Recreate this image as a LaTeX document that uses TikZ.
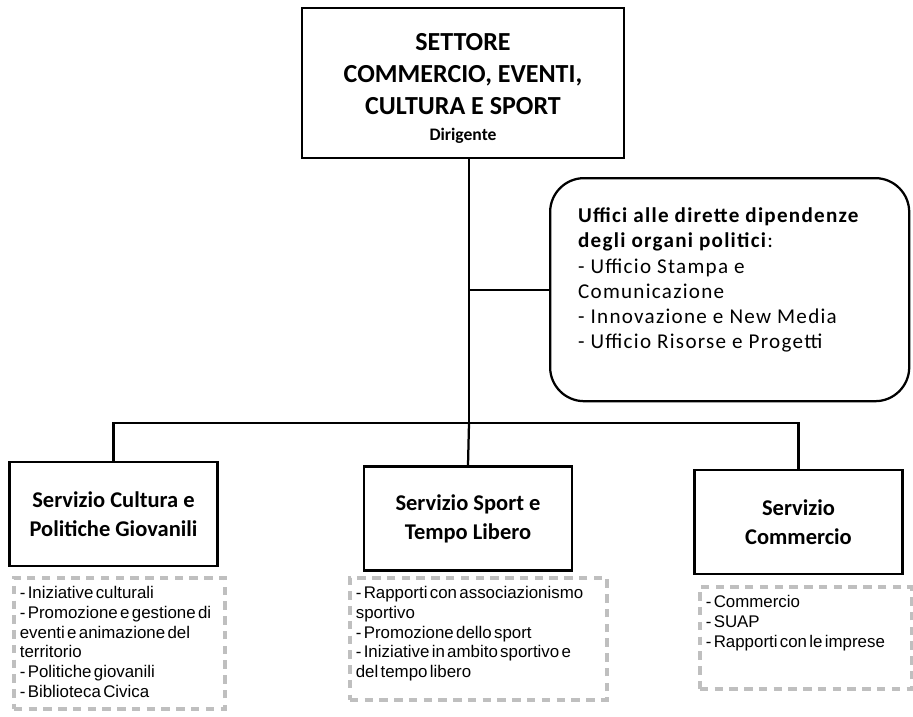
\documentclass[tikz,border=0pt]{standalone}
\usepackage{fontspec}
\newfontfamily\carlito{Carlito}
\newfontfamily\carlitow[LetterSpace=6]{Carlito}
\newfontfamily\liber[WordSpace=0.5]{Liberation Sans}
\definecolor{dashgray}{HTML}{BFBFBF}

\begin{document}
\begin{tikzpicture}[x=0.025cm,y=-0.025cm,
        box/.style={draw,line width=1.6pt,align=center},
        srv/.style={box,minimum width=52mm,minimum height=26mm,font=\carlito\bfseries\fontsize{16}{20.5}\selectfont},
        lista/.style={draw=dashgray,line width=2.6pt,dash pattern=on 6pt off 4.5pt,anchor=north west,inner xsep=1.5mm,inner ysep=2mm,font=\liber\fontsize{12}{14.2}\selectfont},
        wire/.style={line width=1.6pt}]
        % frame
        \useasboundingbox (0,0) rectangle (913,716);
        % head
        \node[box,minimum width=80.5mm,minimum height=37.5mm,font=\carlito\bfseries\fontsize{18.5}{22.8}\selectfont] (sett) at (463,83)
            {\rule{0pt}{20pt}SETTORE\\COMMERCIO, EVENTI,\\CULTURA E SPORT\\[-4pt]{\fontsize{12.5}{15}\selectfont Dirigente}};
        % staff offices
        \node[draw,line width=1.6pt,rounded corners=8.5mm,anchor=north west,inner xsep=7mm,inner ysep=7.5mm,font=\carlitow\fontsize{15}{17.8}\selectfont] (uffici) at (549,177)
            {\parbox[t][40.75mm][t]{75.75mm}{\raggedright\textbf{Uffici alle dirette dipendenze\\degli organi politici}:\\- Ufficio Stampa e\\Comunicazione\\- Innovazione e New Media\\- Ufficio Risorse e Progetti}};
        % services
        \node[srv] (cult) at (113.5,514) {Servizio Cultura e\\Politiche Giovanili};
        \node[srv] (sport) at (468,518.5) {Servizio Sport e\\Tempo Libero};
        \node[srv] (comm) at (798.5,522) {Servizio\\Commercio};
        % connectors
        \coordinate (bus) at (469,423);
        \draw[wire] (sett.south -| bus) -- (bus);
        \draw[wire] (uffici.west -| bus) -- (uffici.west);
        \draw[wire] (cult.north) |- (bus) -| (comm.north);
        \draw[wire] (bus) -- (sport.north);
        % activities
        \node[lista] (lcult) at (12,576)
            {\parbox[t][28.75mm][t]{49.75mm}{\raggedright - Iniziative culturali\\- Promozione e gestione di\\eventi e animazione del\\territorio\\- Politiche giovanili\\- Biblioteca Civica}};
        \node[lista] (lsport) at (348,576)
            {\parbox[t][26.5mm][t]{61.25mm}{\raggedright - Rapporti con associazionismo\\sportivo\\- Promozione dello sport\\- Iniziative in ambito sportivo e\\del tempo libero}};
        \node[lista] (lcomm) at (698,585)
            {\parbox[t][21.5mm][t]{50mm}{\raggedright - Commercio\\- SUAP\\- Rapporti con le imprese}};
    \end{tikzpicture}
\end{document}
